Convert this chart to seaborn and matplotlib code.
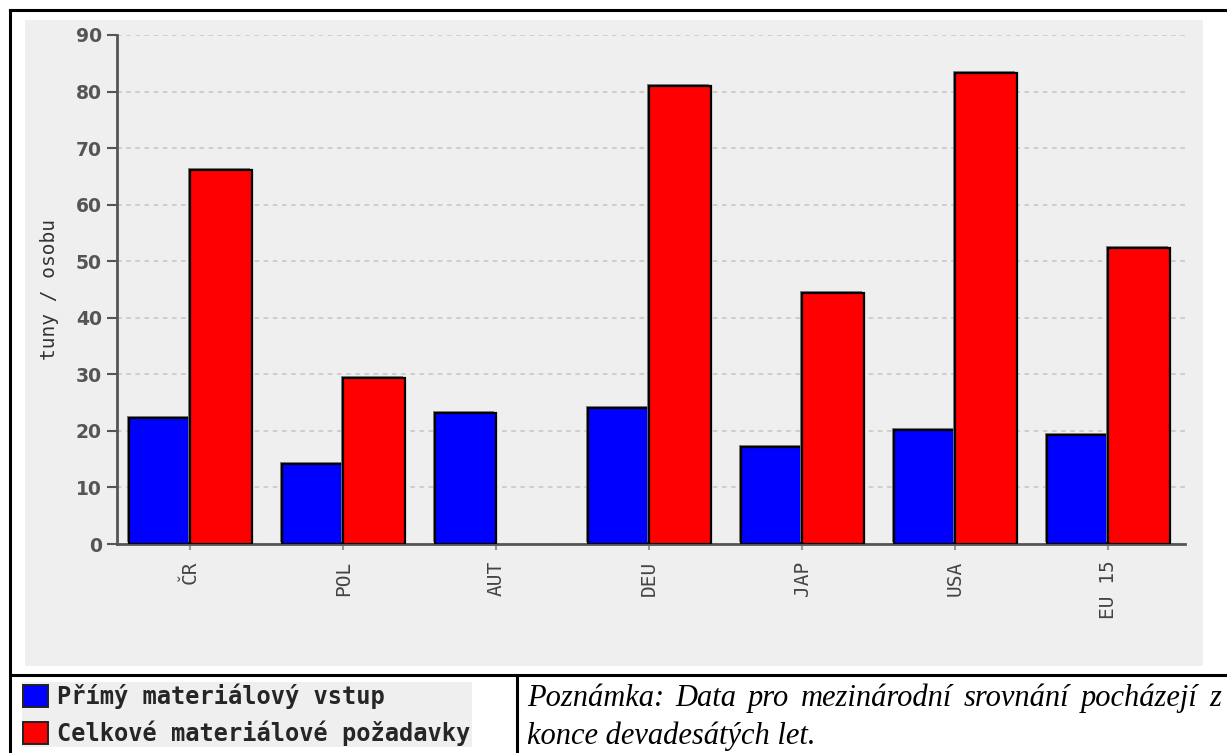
import numpy as np
import pandas as pd
import matplotlib
matplotlib.use("Agg")
import matplotlib.pyplot as plt
from matplotlib.lines import Line2D
from matplotlib.patches import Rectangle, Patch
from matplotlib.font_manager import FontProperties
import matplotlib.patheffects as pe
import seaborn as sns

# --- data -------------------------------------------------------------
countries = ["ČR", "POL", "AUT", "DEU", "JAP", "USA", "EU 15"]
direct_input = [22.3, 14.2, 23.2, 24.1, 17.2, 20.2, 19.3]
total_requirement = [66.1, 29.3, np.nan, 81.0, 44.3, 83.2, 52.3]
series_names = ["Přímý materiálový vstup", "Celkové materiálové požadavky"]
series_colors = ["#0000ff", "#ff0000"]
y_ticks = [0, 10, 20, 30, 40, 50, 60, 70, 80, 90]
y_label = "tuny / osobu"
note_lines = [
    "Poznámka: Data pro mezinárodní srovnání pocházejí z",
    "konce devadesátých let.",
]

df = pd.DataFrame({
    "země": countries * 2,
    "hodnota": direct_input + total_requirement,
    "ukazatel": [series_names[0]] * len(countries) + [series_names[1]] * len(countries),
})

# --- figure -----------------------------------------------------------
sns.set_theme(style="white")
W, H = 1227, 753
fig = plt.figure(figsize=(W / 100, H / 100), dpi=100)
fig.patch.set_facecolor("white")


def fx(px):
    return px / W


def fy(py):
    return 1 - py / H


# light grey chart panel
fig.add_artist(Rectangle((fx(25), fy(666)), fx(1203) - fx(25), fy(20) - fy(666),
                         transform=fig.transFigure, facecolor="#efefef",
                         edgecolor="none", zorder=-5))

ax = fig.add_axes([fx(117), fy(544), fx(1185) - fx(117), fy(35) - fy(544)])
ax.set_facecolor("none")

sns.barplot(data=df, x="země", y="hodnota", hue="ukazatel", order=countries,
            hue_order=series_names, palette=series_colors, saturation=1,
            width=0.8, edgecolor="black", linewidth=1.6, ax=ax, zorder=3)

shadow = [pe.SimplePatchShadow(offset=(-1.5, 1.5), shadow_rgbFace="#7a7a7a", alpha=0.9),
          pe.Normal()]
for p in ax.patches:
    p.set_path_effects(shadow)

if ax.get_legend() is not None:
    ax.get_legend().remove()

ax.set_xlim(-0.48, 6.5)
ax.set_ylim(0, 90)
ax.set_yticks(y_ticks)
ax.set_yticklabels([str(v) for v in y_ticks])

ax.set_axisbelow(True)
ax.yaxis.grid(True, linestyle=(0, (3, 3)), color="#c4c4c4", linewidth=1.1)
ax.xaxis.grid(False)

for s in ("top", "right"):
    ax.spines[s].set_visible(False)
for s in ("left", "bottom"):
    ax.spines[s].set_color("#555555")
    ax.spines[s].set_linewidth(2)

ax.tick_params(axis="y", length=7, width=1.5, color="#555555", pad=4, left=True)
ax.tick_params(axis="x", length=4, width=1.5, color="#999999", pad=8, bottom=True)

for lbl in ax.get_yticklabels():
    lbl.set_fontproperties(FontProperties(family="DejaVu Sans", weight="bold", size=13.5))
    lbl.set_color("#555555")
for lbl in ax.get_xticklabels():
    lbl.set_fontproperties(FontProperties(family="DejaVu Sans Mono", size=14))
    lbl.set_color("#444444")
    lbl.set_rotation(90)
    lbl.set_va("top")

ax.set_xlabel("")
ax.set_ylabel(y_label, fontfamily="DejaVu Sans Mono", fontsize=14,
              color="#333333", labelpad=12)

# --- legend -----------------------------------------------------------
handles = [Patch(facecolor=c, edgecolor="#222222", linewidth=1.4) for c in series_colors]
fig.legend(handles, series_names, loc="upper left",
           bbox_to_anchor=(fx(22), fy(682)), frameon=True, facecolor="#efefef",
           edgecolor="none", fancybox=False, framealpha=1,
           prop=FontProperties(family="DejaVu Sans Mono", weight="bold", size=17),
           handlelength=1.05, handleheight=1.05, handletextpad=0.4,
           labelspacing=0.5, borderpad=0.05, borderaxespad=0)

# --- frame lines ------------------------------------------------------
frame_kw = dict(transform=fig.transFigure, color="black", linewidth=2.2,
                solid_capstyle="projecting")
fig.add_artist(Line2D([fx(10), fx(1227)], [fy(10), fy(10)], **frame_kw))
fig.add_artist(Line2D([fx(10), fx(10)], [fy(10), fy(753)], **frame_kw))
fig.add_artist(Line2D([fx(10), fx(1227)], [fy(675), fy(675)], **frame_kw))
fig.add_artist(Line2D([fx(517), fx(517)], [fy(675), fy(753)], **frame_kw))

# --- note (first line justified) --------------------------------------
note_font = dict(family="Liberation Serif", style="italic", size=22, color="black")
fig.canvas.draw()
renderer = fig.canvas.get_renderer()
x_left, x_right = 527, 1221
words = note_lines[0].split()
word_texts = [fig.text(0, 0, w, va="baseline", ha="left", **note_font) for w in words]
widths = [t.get_window_extent(renderer).width for t in word_texts]
gap = (x_right - x_left - sum(widths)) / (len(words) - 1)
x = x_left
for t, w in zip(word_texts, widths):
    t.set_position((fx(x), fy(706)))
    x += w + gap
fig.text(fx(x_left), fy(744), note_lines[1], va="baseline", ha="left", **note_font)

fig.savefig("out.png", dpi=100)
